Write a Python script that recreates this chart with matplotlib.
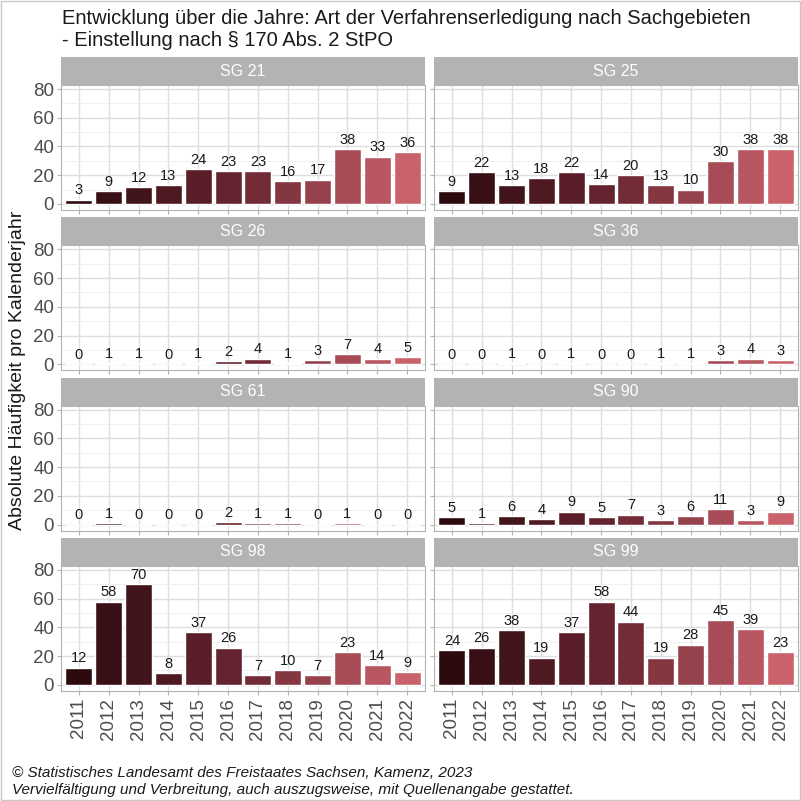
import numpy as np
import matplotlib
matplotlib.use('Agg')
import matplotlib.pyplot as plt
from matplotlib.colors import LinearSegmentedColormap
from matplotlib.patches import Rectangle

plt.rcParams['font.family'] = ['Liberation Sans', 'DejaVu Sans']

years = [str(y) for y in range(2011, 2023)]
panels = ["SG 21", "SG 25", "SG 26", "SG 36", "SG 61", "SG 90", "SG 98", "SG 99"]
sg21 = [3, 9, 12, 13, 24, 23, 23, 16, 17, 38, 33, 36]
sg25 = [9, 22, 13, 18, 22, 14, 20, 13, 10, 30, 38, 38]
sg26 = [0, 1, 1, 0, 1, 2, 4, 1, 3, 7, 4, 5]
sg36 = [0, 0, 1, 0, 1, 0, 0, 1, 1, 3, 4, 3]
sg61 = [0, 1, 0, 0, 0, 2, 1, 1, 0, 1, 0, 0]
sg90 = [5, 1, 6, 4, 9, 5, 7, 3, 6, 11, 3, 9]
sg98 = [12, 58, 70, 8, 37, 26, 7, 10, 7, 23, 14, 9]
sg99 = [24, 26, 38, 19, 37, 58, 44, 19, 28, 45, 39, 23]
values = [sg21, sg25, sg26, sg36, sg61, sg90, sg98, sg99]
yticks = [0, 20, 40, 60, 80]

cmap = LinearSegmentedColormap.from_list("wine", ["#2c0a0e", "#6a2631", "#c9626b"])
colors = [cmap(i / (len(years) - 1)) for i in range(len(years))]

W = H = 801
fig = plt.figure(figsize=(8.01, 8.01), dpi=100)
fig.patches.append(Rectangle((0.001, 0.001), 0.998, 0.998, transform=fig.transFigure,
                             fill=False, edgecolor="#c8c8c8", linewidth=1))

col_x = [61, 434]
ax_w = 364
strip_h = 28
ax_h = 125
x = np.arange(len(years))

for i, (name, vals) in enumerate(zip(panels, values)):
    r, c = divmod(i, 2)
    top = 57 + 160.3 * r
    left = col_x[c]
    ax = fig.add_axes([left / W, 1 - (top + strip_h + ax_h) / H, ax_w / W, ax_h / H])
    sax = fig.add_axes([left / W, 1 - (top + strip_h) / H, ax_w / W, strip_h / H])
    sax.set_facecolor("#b3b3b3")
    sax.set_xticks([]); sax.set_yticks([])
    for s in sax.spines.values():
        s.set_visible(False)
    sax.text(0.5, 0.5, name, color="white", ha="center", va="center", fontsize=11.5,
             transform=sax.transAxes)

    ax.bar(x, vals, width=0.9, color=colors, edgecolor="white", linewidth=1, zorder=3)
    for xi, v in zip(x, vals):
        ax.text(xi, v + 1.5, str(v), ha="center", va="bottom", fontsize=10.5, color="#1a1a1a", zorder=4)
    ax.set_xlim(-0.6, len(years) - 0.4)
    ax.set_ylim(-4.2, 82.8)
    ax.set_yticks(yticks)
    ax.set_yticks([10, 30, 50, 70], minor=True)
    ax.set_xticks(x)
    ax.grid(True, which="major", color="#dedede", linewidth=1, zorder=0)
    ax.grid(True, which="minor", axis="y", color="#eeeeee", linewidth=0.6, zorder=0)
    ax.set_axisbelow(True)
    for s in ax.spines.values():
        s.set_color("#b3b3b3")
    ax.tick_params(axis="both", which="major", color="#b3b3b3", length=3, labelsize=13.5,
                   labelcolor="#4d4d4d", pad=2)
    ax.tick_params(axis="both", which="minor", length=0)
    if c == 0:
        ax.set_yticklabels([str(t) for t in yticks])
    else:
        ax.set_yticklabels([])
    if r == 3:
        ax.set_xticklabels(years, rotation=90)
    else:
        ax.set_xticklabels([])

fig.text(62 / W, 1 - 18 / H, "Entwicklung über die Jahre: Art der Verfahrenserledigung nach Sachgebieten",
         fontsize=14.5, va="center", ha="left", color="#1a1a1a")
fig.text(62 / W, 1 - 40 / H, "- Einstellung nach § 170 Abs. 2 StPO",
         fontsize=14.5, va="center", ha="left", color="#1a1a1a")
fig.text(18 / W, 1 - 370 / H, "Absolute Häufigkeit pro Kalenderjahr", rotation=90,
         fontsize=14, va="center", ha="center", color="#1a1a1a")
fig.text(12 / W, 1 - 773 / H, "© Statistisches Landesamt des Freistaates Sachsen, Kamenz, 2023",
         fontsize=11, style="italic", va="center", ha="left", color="#1a1a1a")
fig.text(12 / W, 1 - 790 / H, "Vervielfältigung und Verbreitung, auch auszugsweise, mit Quellenangabe gestattet.",
         fontsize=11, style="italic", va="center", ha="left", color="#1a1a1a")

fig.savefig("out.png", dpi=100)
